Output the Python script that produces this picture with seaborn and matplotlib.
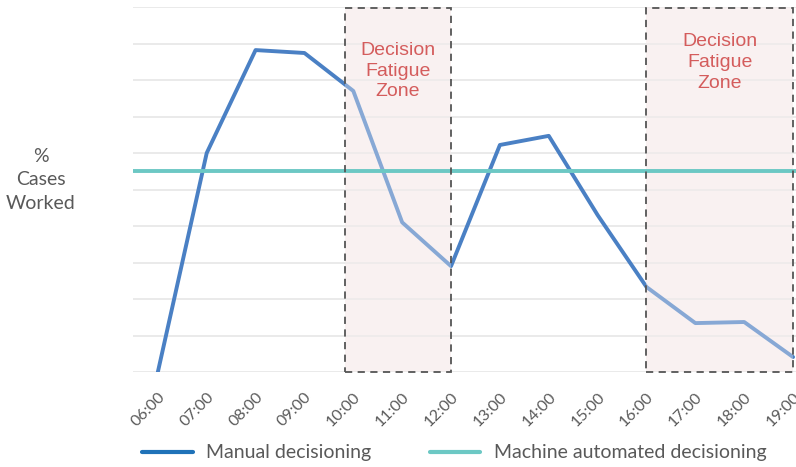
#%% IMPORTS
import matplotlib
matplotlib.use("Agg")
from matplotlib import pyplot as plt
from matplotlib.patches import Rectangle
import pandas as pd
import seaborn as sns

#%% DATA
hours = ["06:00", "07:00", "08:00", "09:00", "10:00", "11:00", "12:00",
         "13:00", "14:00", "15:00", "16:00", "17:00", "18:00", "19:00"]
manual_pct = [0.0, 6.0, 8.82, 8.74, 7.7, 4.1, 2.9,
              6.22, 6.47, 4.3, 2.33, 1.34, 1.37, 0.41]
machine_pct = 5.5
fatigue_zones = [("10:00", "12:00"), ("16:00", "19:00")]
zone_label = "Decision\nFatigue\nZone"
zone_label_top = [9.05, 9.28]

#%% COLOURS
BLUE = "#4a80c4"
BLUE_LEGEND = "#1f72b8"
TEAL = "#6cc8c4"
GREY = "#595959"
ZONE_RED = "#d45c5c"

#%% PLOT
sns.set_style("white")
plt.rcParams["font.family"] = ["Lato", "DejaVu Sans"]

df = pd.DataFrame({"hour": range(len(hours)), "pct": manual_pct})

fig = plt.figure(figsize=(7.96, 4.67), dpi=100)
ax = fig.add_axes([0.167, 0.2034, 0.833, 0.7816])

sns.lineplot(data=df, x="hour", y="pct", color=BLUE, linewidth=2.8, ax=ax, zorder=2)
ax.axhline(machine_pct, color=TEAL, linewidth=2.8, zorder=4)

for (start, end), top in zip(fatigue_zones, zone_label_top):
    x0, x1 = hours.index(start), hours.index(end)
    if x0 == 4:
        x0 -= 0.17  # first box sits a little left of its hour in the source
    # pink background behind the line
    ax.add_patch(Rectangle((x0, 0), x1 - x0, 10, facecolor="#f9f0f0",
                           edgecolor="none", zorder=0.5))
    # pale veil that lightens the line inside the zone
    ax.add_patch(Rectangle((x0, 0), x1 - x0, 10, facecolor="#fbf5f5",
                           edgecolor="none", alpha=0.35, zorder=3))
    ax.add_patch(Rectangle((x0, 0), x1 - x0, 9.98, facecolor="none",
                           edgecolor="#555555", linestyle=(0, (4, 3)),
                           linewidth=1.3, zorder=5, clip_on=False))
    ax.text((x0 + x1) / 2, top, zone_label, ha="center", va="top",
            color=ZONE_RED, fontsize=14, linespacing=1.3, zorder=6,
            family=["Liberation Sans", "DejaVu Sans"])

ax.set_xlim(-0.51, 13.06)
ax.set_ylim(0, 10)
ax.set_yticks(range(0, 11))
ax.yaxis.grid(True, color="#e6e6e6", linewidth=1.2)
ax.set_yticklabels([])
ax.tick_params(axis="y", length=0)
ax.set_xticks(range(len(hours)))
ax.set_xticklabels(hours, rotation=45, ha="right", rotation_mode="anchor",
                   color=GREY, fontsize=11.5)
ax.tick_params(axis="x", length=0, pad=13)
ax.set_xlabel("")
ax.set_ylabel("")
for side in ["left", "right", "top", "bottom"]:
    ax.spines[side].set_visible(False)

fig.text(0.051, 0.615, "%\nCases\nWorked", ha="center", va="center",
         color=GREY, fontsize=14, linespacing=1.45)

handles = [plt.Line2D([], [], color=BLUE_LEGEND, linewidth=3),
           plt.Line2D([], [], color=TEAL, linewidth=3)]
fig.legend(handles, ["Manual decisioning", "Machine automated decisioning"],
           loc="center", bbox_to_anchor=(0.571, 0.03), ncol=2, frameon=False,
           fontsize=14, handlelength=2.6, handletextpad=0.7, columnspacing=3.0,
           labelcolor=GREY)

fig.savefig("out.png", dpi=100)
